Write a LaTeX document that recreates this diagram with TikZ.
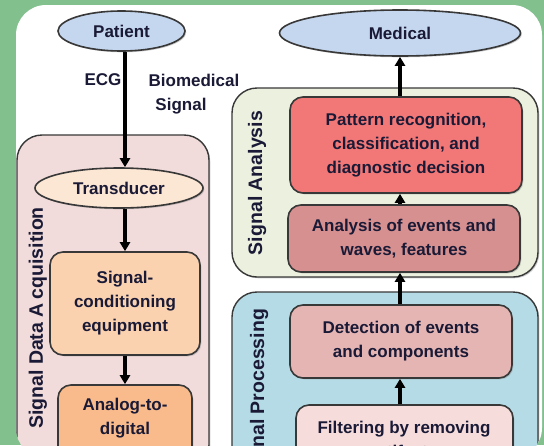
\documentclass[tikz,border=0pt]{standalone}
\usepackage{fontspec}
\setmainfont{Liberation Sans}
\usetikzlibrary{shapes.geometric,arrows.meta,shadows}
\definecolor{bggreen}{HTML}{82C08E}
\definecolor{bordc}{HTML}{383838}
\definecolor{txtc}{HTML}{1A1A36}
\definecolor{ellblue}{HTML}{C5D7EE}
\definecolor{acqfill}{HTML}{F1DCDB}
\definecolor{transfill}{HTML}{FCE6D4}
\definecolor{condfill}{HTML}{FAD2B0}
\definecolor{analogfill}{HTML}{F9BB8C}
\definecolor{safill}{HTML}{EBF1DE}
\definecolor{patternfill}{HTML}{F27777}
\definecolor{analysisfill}{HTML}{D79090}
\definecolor{spfill}{HTML}{B5DCE6}
\definecolor{detfill}{HTML}{E5B5B4}
\definecolor{filtfill}{HTML}{F6DDDC}
\begin{document}
\begin{tikzpicture}[x=1pt,y=-1pt,
  txt/.style={font=\bfseries\fontsize{17}{24}\selectfont, text=txtc, align=center},
  shad/.style={drop shadow={shadow xshift=1.3pt,shadow yshift=-1.3pt,opacity=0.4}},
  box/.style={draw=bordc, line width=1.6pt, rounded corners=13pt, shad, inner sep=0pt},
  big/.style={draw=bordc, line width=1.4pt, rounded corners=25pt, shad, inner sep=0pt},
  ell/.style={ellipse, draw=bordc, line width=1.6pt, fill=ellblue, shad, inner sep=0pt, txt},
  arr/.style={line width=3.2pt, -{Triangle[length=9pt,width=10pt]}},
  side/.style={font=\bfseries\fontsize{19.5}{23}\selectfont, text=txtc, rotate=90, inner sep=0pt},
]
\useasboundingbox (0,0) rectangle (544,445);
\clip (0,0) rectangle (544,445);
\fill[bggreen] (0,0) rectangle (544,445);
\fill[white, rounded corners=30pt] (16,5) rectangle (542,458);
\begin{scope}
\clip[rounded corners=30pt] (16,5) rectangle (542,458);
% big containers
\node[big, fill=acqfill, minimum width=192pt, minimum height=335pt] (acq) at (113,302.5) {};
\node[big, fill=safill, minimum width=306pt, minimum height=189pt] (sa) at (385,182.5) {};
\node[big, fill=spfill, minimum width=306pt, minimum height=188pt] (sp) at (385,386) {};
% side labels
\node[side] (acqlab) at (38,318) {Signal Data A\hspace{4pt}cquisition};
\node[side] (salab) at (257,183) {Signal Analysis};
\node[side] (splab) at (259,393.5) {Signal Processing};
% left column
\node[ell, fill=transfill, minimum width=168pt, minimum height=40pt] (trans) at (119,188) {Transducer};
\node[box, fill=condfill, txt, minimum width=150pt, minimum height=103pt] (cond) at (125,303.5) {Signal-\\conditioning\\equipment};
\node[box, fill=analogfill, minimum width=134pt, minimum height=95pt] (analogbox) at (125,432.5) {};
\node[txt] (analog) at (125,418) {Analog-to-\\digital};
% right column
\node[box, fill=patternfill, txt, minimum width=232pt, minimum height=96pt] (pattern) at (406,145) {Pattern recognition,\\classification, and\\diagnostic decision};
\node[box, fill=analysisfill, txt, minimum width=232pt, minimum height=67pt] (analysis) at (404,238.5) {Analysis of events and\\waves, features};
\node[box, fill=detfill, txt, minimum width=222pt, minimum height=73pt] (det) at (401,341.5) {Detection of events\\and components};
\node[box, fill=filtfill, minimum width=217pt, minimum height=80pt] (filtbox) at (404.5,445) {};
\node[txt] (filt) at (404,439) {Filtering by removing\\artifacts};
\end{scope}
% ellipses at top
\node[ell, minimum width=127pt, minimum height=40pt] (patient) at (121.5,31) {Patient};
\node[ell, minimum width=241pt, minimum height=46pt] (medical) at (400,33) {Medical};
% labels
\node[txt] (ecg) at (103,80) {ECG};
\node[txt] (bio) at (194,80) {Biomedical};
\node[txt] (sig) at (181,106) {Signal};
% connectors
\draw[arr] (patient.south -| cond.north) -- (trans.north -| cond.north);
\draw[arr] (trans.south -| cond.north) -- (cond.north);
\draw[arr] (cond.south) -- (analogbox.north);
\draw[arr] (pattern.north -| medical.south) -- (medical.south);
\draw[arr] (analysis.north -| medical.south) -- (pattern.south -| medical.south);
\draw[arr] (det.north -| medical.south) -- (analysis.south -| medical.south);
\draw[arr] (filtbox.north -| medical.south) -- (det.south -| medical.south);
\end{tikzpicture}
\end{document}
